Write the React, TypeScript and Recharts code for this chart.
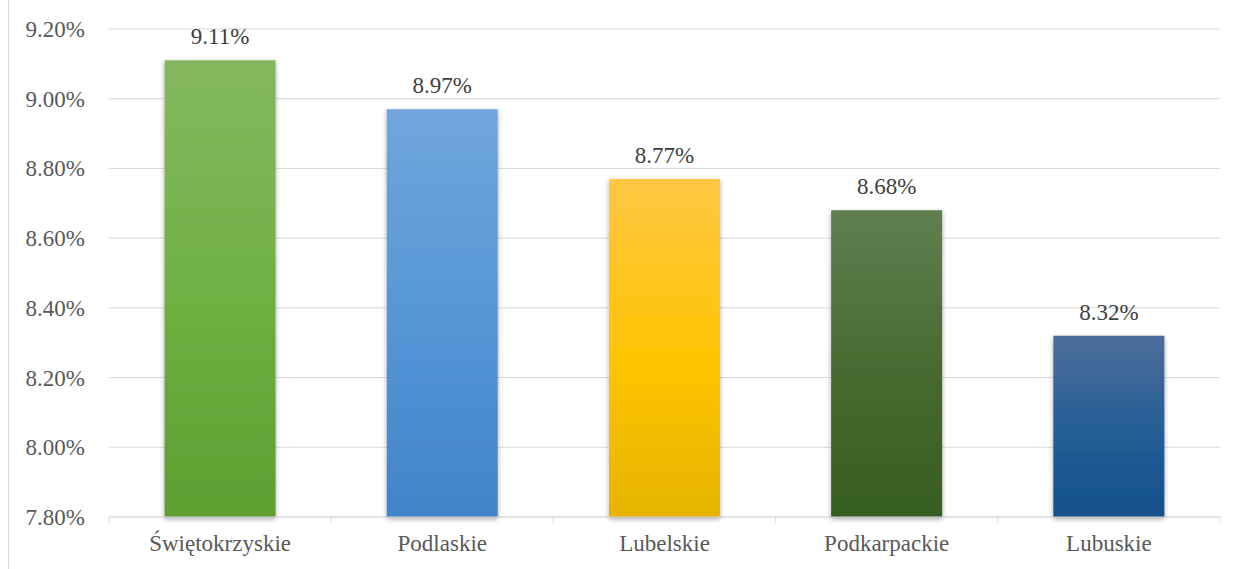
import { BarChart, Bar, XAxis, YAxis, CartesianGrid, Cell, LabelList } from "recharts";

const regions = ["Świętokrzyskie", "Podlaskie", "Lubelskie", "Podkarpackie", "Lubuskie"];
const rates = [9.11, 8.97, 8.77, 8.68, 8.32];
const yTicks = [7.8, 8.0, 8.2, 8.4, 8.6, 8.8, 9.0, 9.2];
// top / middle / bottom colour of each bar's gradient
const topColors = ["#84b860", "#70a6dc", "#ffc745", "#5f7f50", "#4d6e9a"];
const midColors = ["#6eaf42", "#5495d6", "#ffc400", "#46692f", "#225d95"];
const bottomColors = ["#5e9e32", "#4184c8", "#e5b300", "#375d21", "#15508a"];

const W = 1235;
const H = 569;
const M = { top: 29, right: 15, left: 0, bottom: 0 };
const Y_W = 109;
const X_H = 52;
const band = (W - Y_W - M.right) / regions.length;

const font = "Liberation Serif, Times New Roman, serif";

const chartData = regions.map((name, i) => ({ name, value: rates[i] }));

const fmt = (v: number) => v.toFixed(2) + "%";

const XTick = ({ x, y, payload, index }: any) => (
    <g>
        <line x1={x - band / 2} x2={x - band / 2} y1={y} y2={y + 6} stroke="#d9d9d9" />
        {index === regions.length - 1 && (
            <line x1={x + band / 2} x2={x + band / 2} y1={y} y2={y + 6} stroke="#d9d9d9" />
        )}
        <text x={x} y={y + 34} textAnchor="middle" fill="#595959" fontSize={23} fontFamily={font}>
            {payload.value}
        </text>
    </g>
);

const YTick = ({ x, y, payload }: any) => (
    <text x={x} y={y + 8} textAnchor="end" fill="#595959" fontSize={23} fontFamily={font}>
        {fmt(payload.value)}
    </text>
);

const TopLabel = ({ x, y, width, value }: any) => (
    <text x={x + width / 2} y={y - 16} textAnchor="middle" fill="#404040" fontSize={23} fontFamily={font}>
        {fmt(Number(value))}
    </text>
);

export default function App() {
    return (
        <div style={{ position: "absolute", left: 0, top: 0, width: W, height: H, background: "#fff" }}>
            <div style={{ position: "absolute", left: 8, top: 0, width: 1, height: H, background: "#d9d9d9" }} />
            <BarChart width={W} height={H} data={chartData} margin={M} barCategoryGap="25%">
                <defs>
                    {regions.map((_, i) => (
                        <linearGradient key={i} id={"g" + i} x1="0" y1="0" x2="0" y2="1">
                            <stop offset="0%" stopColor={topColors[i]} />
                            <stop offset="55%" stopColor={midColors[i]} />
                            <stop offset="100%" stopColor={bottomColors[i]} />
                        </linearGradient>
                    ))}
                    <filter id="shadow" x="-20%" y="-10%" width="140%" height="120%">
                        <feDropShadow dx="0" dy="2" stdDeviation="2.5" floodColor="#000" floodOpacity="0.35" />
                    </filter>
                </defs>
                <CartesianGrid vertical={false} stroke="#d9d9d9" />
                <XAxis
                    dataKey="name"
                    height={X_H}
                    axisLine={{ stroke: "#d9d9d9" }}
                    tickLine={false}
                    tickSize={0}
                    tickMargin={0}
                    interval={0}
                    tick={<XTick />}
                />
                <YAxis
                    width={Y_W}
                    domain={[7.8, 9.2]}
                    ticks={yTicks}
                    axisLine={false}
                    tickLine={false}
                    tickSize={0}
                    tickMargin={24}
                    tick={<YTick />}
                />
                <Bar dataKey="value" isAnimationActive={false} style={{ filter: "url(#shadow)" }}>
                    {chartData.map((_, i) => (
                        <Cell key={i} fill={`url(#g${i})`} />
                    ))}
                    <LabelList dataKey="value" content={<TopLabel />} />
                </Bar>
            </BarChart>
        </div>
    );
}
